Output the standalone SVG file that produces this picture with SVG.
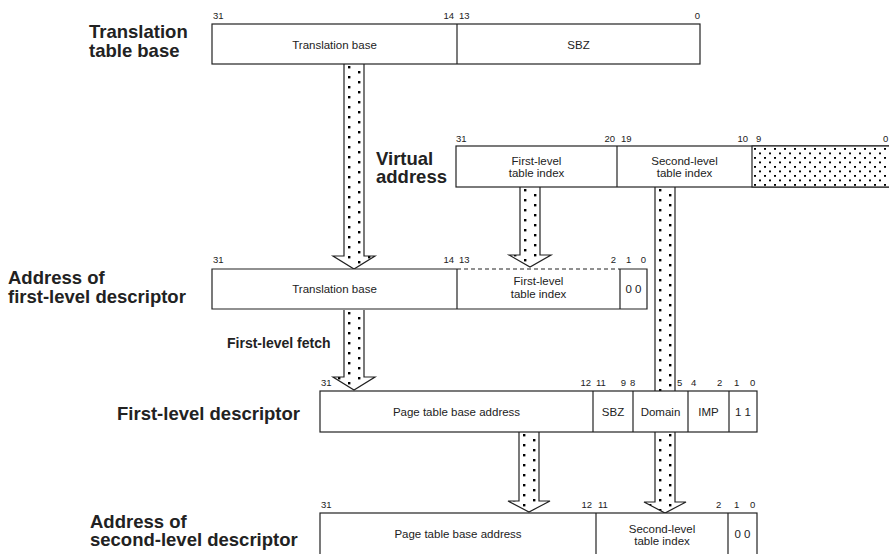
<svg xmlns="http://www.w3.org/2000/svg" width="889" height="554" viewBox="0 0 889 554">
<defs>
<pattern id="shaftDots" patternUnits="userSpaceOnUse" width="20" height="10">
<rect width="20" height="10" fill="#fff"/>
<rect x="4" y="2" width="2.4" height="2.4" fill="#000"/>
<rect x="14" y="7" width="2.4" height="2.4" fill="#000"/>
</pattern>
<pattern id="fieldDots" patternUnits="userSpaceOnUse" x="752" y="146" width="10" height="9">
<rect width="10" height="9" fill="#fff"/>
<rect x="2" y="2" width="2" height="1.8" fill="#000"/>
<rect x="7" y="6.5" width="2" height="1.8" fill="#000"/>
</pattern>
<style>
.box{fill:#fff;stroke:#222;stroke-width:1.2}
.bg{fill:#fff;stroke:none}
.ln{stroke:#222;stroke-width:1.2;fill:none}
.dash{stroke:#222;stroke-width:1.2;fill:none;stroke-dasharray:4 3}
.arrow{fill:url(#shaftDots);stroke:#222;stroke-width:1.2}
text{font-family:"Liberation Sans",Arial,Helvetica,sans-serif;fill:#222}
.bit{font-size:9.5px}
.end{text-anchor:end}
.cell{font-size:11.5px;text-anchor:middle}
.title{font-size:18.5px;font-weight:bold}
.note{font-size:14px;font-weight:bold}
</style>
</defs>
<rect width="889" height="554" fill="#fff"/>

<g id="connectors">
<path class="arrow" transform="translate(344,64)" d="M0,0 V192 H-11 L10,205 L31,192 H20 V0"/>
<path class="arrow" transform="translate(520,187)" d="M0,0 V68 H-11 L10,80 L31,68 H20 V0"/>
<path class="arrow" transform="translate(655,187)" d="M0,0 V315 H-11 L10,326 L31,315 H20 V0"/>
<path class="arrow" transform="translate(344,310)" d="M0,0 V67 H-11 L10,80 L31,67 H20 V0"/>
<path class="arrow" transform="translate(519,432)" d="M0,0 V69 H-11 L10,80 L31,69 H20 V0"/>
<text class="note" x="227" y="348">First-level fetch</text>
</g>

<g id="translation-table-base">
<text class="title" x="89" y="38">Translation</text>
<text class="title" x="89" y="57">table base</text>
<rect class="box" x="212" y="24" width="488" height="40"/>
<line class="ln" x1="457" y1="24" x2="457" y2="64"/>
<text class="bit" x="213" y="19">31</text>
<text class="bit end" x="454" y="19">14</text>
<text class="bit" x="459" y="19">13</text>
<text class="bit end" x="700" y="19">0</text>
<text class="cell" x="334.5" y="48.5">Translation base</text>
<text class="cell" x="578.5" y="48.5">SBZ</text>
</g>

<g id="virtual-address">
<text class="title" x="376" y="164.5">Virtual</text>
<text class="title" x="376" y="182.5">address</text>
<rect class="box" x="456" y="146" width="440" height="41"/>
<rect x="752" y="146" width="144" height="41" fill="url(#fieldDots)" stroke="#222" stroke-width="1.2"/>
<line class="ln" x1="617" y1="146" x2="617" y2="187"/>
<text class="bit" x="456" y="142">31</text>
<text class="bit end" x="615" y="142">20</text>
<text class="bit" x="621" y="142">19</text>
<text class="bit end" x="748" y="142">10</text>
<text class="bit" x="756" y="142">9</text>
<text class="bit" x="883" y="142">0</text>
<text class="cell" x="536.5" y="164.5">First-level</text>
<text class="cell" x="536.5" y="177">table index</text>
<text class="cell" x="684.5" y="164.5">Second-level</text>
<text class="cell" x="684.5" y="177">table index</text>
</g>

<g id="address-first-level-descriptor">
<text class="title" x="8" y="284">Address of</text>
<text class="title" x="8" y="302.5">first-level descriptor</text>
<rect class="bg" x="212" y="269" width="435" height="40"/>
<path class="ln" d="M457,269 H212 V309 H647 V269 H620"/>
<line class="dash" x1="457" y1="269" x2="620" y2="269"/>
<line class="ln" x1="457" y1="269" x2="457" y2="309"/>
<line class="ln" x1="620" y1="269" x2="620" y2="309"/>
<text class="bit" x="213" y="263">31</text>
<text class="bit end" x="454" y="263">14</text>
<text class="bit" x="459" y="263">13</text>
<text class="bit end" x="616" y="263">2</text>
<text class="bit" x="626" y="263">1</text>
<text class="bit end" x="646" y="263">0</text>
<text class="cell" x="334.5" y="293">Translation base</text>
<text class="cell" x="538.5" y="285">First-level</text>
<text class="cell" x="538.5" y="297.5">table index</text>
<text class="cell" x="633.5" y="293">0 0</text>
</g>

<g id="first-level-descriptor">
<text class="title" x="117" y="420">First-level descriptor</text>
<rect class="box" x="320" y="391" width="437" height="41"/>
<line class="ln" x1="593" y1="391" x2="593" y2="432"/>
<line class="ln" x1="633" y1="391" x2="633" y2="432"/>
<line class="ln" x1="688" y1="391" x2="688" y2="432"/>
<line class="ln" x1="729" y1="391" x2="729" y2="432"/>
<text class="bit" x="321" y="386">31</text>
<text class="bit end" x="591" y="386">12</text>
<text class="bit" x="596" y="386">11</text>
<text class="bit end" x="626" y="386">9</text>
<text class="bit" x="630" y="386">8</text>
<text class="bit" x="677" y="386">5</text>
<text class="bit" x="691" y="386">4</text>
<text class="bit" x="717" y="386">2</text>
<text class="bit" x="734" y="386">1</text>
<text class="bit" x="750" y="386">0</text>
<text class="cell" x="456.5" y="416">Page table base address</text>
<text class="cell" x="613" y="416">SBZ</text>
<text class="cell" x="660.5" y="416">Domain</text>
<text class="cell" x="708.5" y="416">IMP</text>
<text class="cell" x="743" y="416">1 1</text>
</g>

<g id="address-second-level-descriptor">
<text class="title" x="90" y="527.5">Address of</text>
<text class="title" x="90" y="545.5">second-level descriptor</text>
<rect class="box" x="320" y="513" width="437" height="45"/>
<line class="ln" x1="596" y1="513" x2="596" y2="558"/>
<line class="ln" x1="728" y1="513" x2="728" y2="558"/>
<text class="bit" x="321" y="508">31</text>
<text class="bit end" x="592" y="508">12</text>
<text class="bit" x="598" y="508">11</text>
<text class="bit" x="716" y="508">2</text>
<text class="bit" x="734" y="508">1</text>
<text class="bit" x="750" y="508">0</text>
<text class="cell" x="458" y="538">Page table base address</text>
<text class="cell" x="662" y="533">Second-level</text>
<text class="cell" x="662" y="545">table index</text>
<text class="cell" x="742.5" y="538">0 0</text>
</g>
</svg>
